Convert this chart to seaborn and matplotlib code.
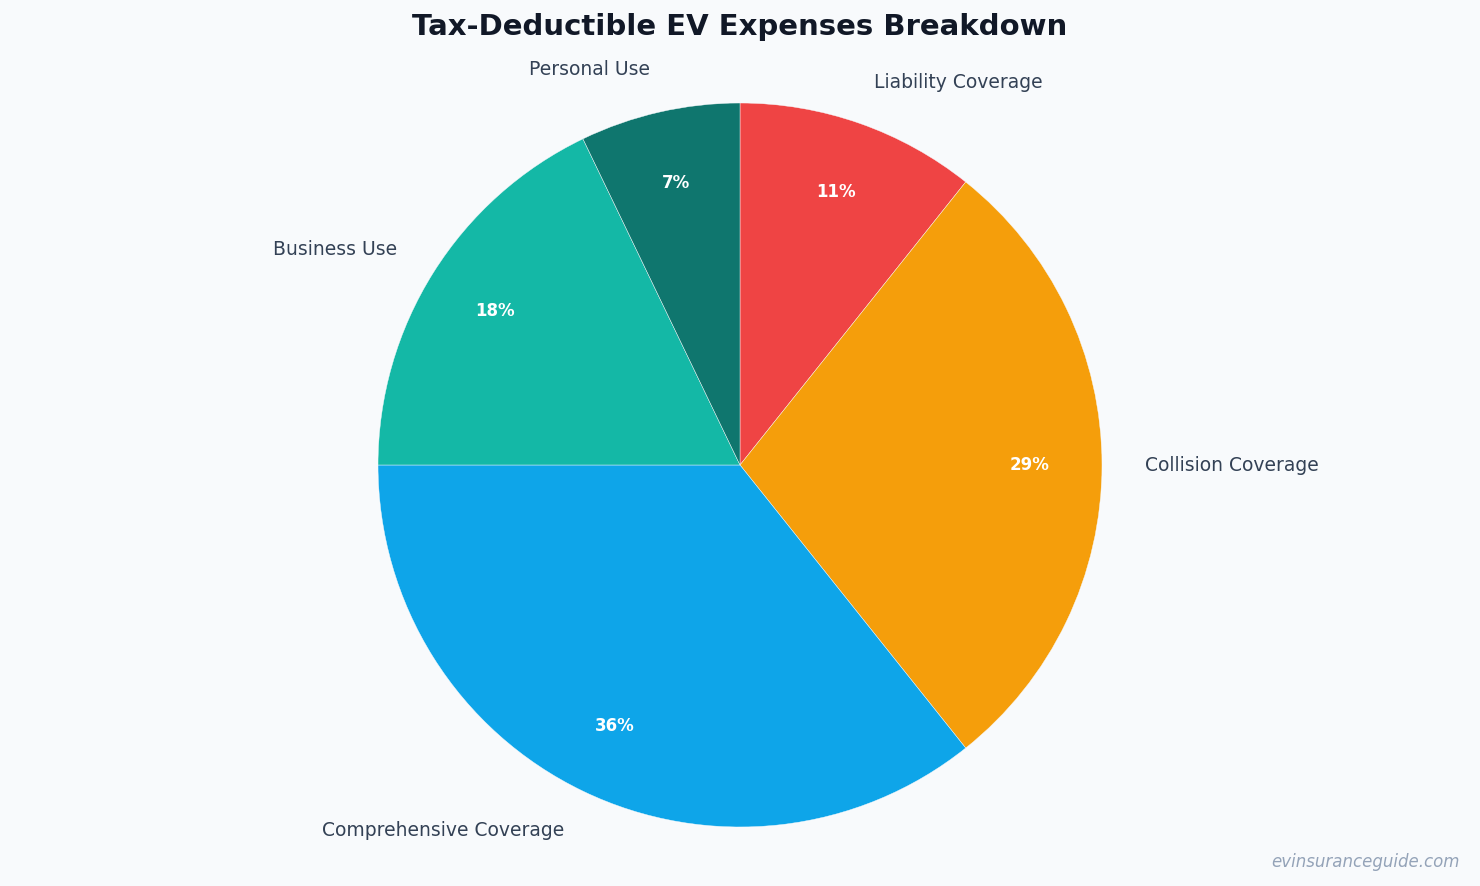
import seaborn as sns
import matplotlib.pyplot as plt

# --- data (clockwise from 12 o'clock)
categories = ['Liability Coverage', 'Collision Coverage', 'Comprehensive Coverage', 'Business Use', 'Personal Use']
amounts = [3, 8, 10, 5, 2]
colors = ['#EF4444', '#F59E0B', '#0EA5E9', '#14B8A6', '#0F766E']

sns.set_theme(style='white')
plt.rcParams['font.family'] = ['DejaVu Sans']

bg = '#F8FAFC'
fig = plt.figure(figsize=(14.8, 8.86), dpi=100, facecolor=bg)
ax = fig.add_axes([340 / 1480, 21 / 886, 800 / 1480, 800 / 886])
ax.set_facecolor(bg)

wedges, texts, autotexts = ax.pie(
    amounts,
    labels=categories,
    colors=colors,
    startangle=90,
    counterclock=False,
    autopct='%1.0f%%',
    pctdistance=0.8,
    labeldistance=1.12,
    wedgeprops=dict(edgecolor=bg, linewidth=0.3),
    textprops=dict(fontsize=13.5, color='#334155'),
)
for t in autotexts:
    t.set_color('white')
    t.set_fontweight('bold')
    t.set_fontsize(12)

ax.set_xlim(-1.105, 1.105)
ax.set_ylim(-1.105, 1.105)
ax.set_aspect('equal')
ax.axis('off')

fig.text(0.5, 1 - 27 / 886, 'Tax-Deductible EV Expenses Breakdown',
         ha='center', va='center', fontsize=21, fontweight='bold', color='#111827')
fig.text(1460 / 1480, 1 - 862 / 886, 'evinsuranceguide.com',
         ha='right', va='center', fontsize=12, style='italic', color='#94A3B8')

fig.savefig('out.png', dpi=100, facecolor=bg)
